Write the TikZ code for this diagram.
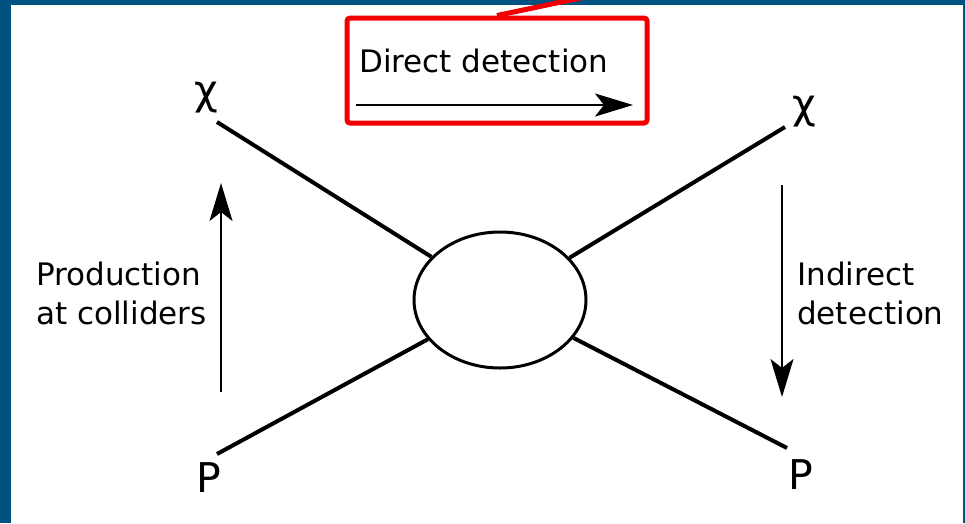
\documentclass[tikz,border=0pt]{standalone}
\usepackage{fontspec}
\setmainfont{DejaVu Sans}
\usetikzlibrary{arrows.meta,shapes.geometric}
\definecolor{frameblue}{RGB}{0,82,128}
\definecolor{boxred}{RGB}{240,0,0}
\begin{document}
\begin{tikzpicture}[x=1pt,y=-1pt,
  lbl/.style={font=\fontsize{31}{39}\selectfont, inner sep=0pt, align=left},
  sym/.style={font=\fontsize{41}{41}\selectfont, inner sep=0pt},
  leg/.style={line width=4pt},
  flow/.style={line width=2pt, -{Stealth[length=38pt,width=23pt,inset=9pt]}},
]
\useasboundingbox (0,0) rectangle (965,523);
\fill[frameblue] (0,0) rectangle (965,523);
\fill[white] (11,5) rectangle (963,523);

% central blob
\node[ellipse, draw, line width=3pt, minimum width=172pt, minimum height=136pt, inner sep=0pt] (blob) at (500,300) {};

% legs
\coordinate (ulend) at (217,122);
\coordinate (llend) at (217,454);
\coordinate (urend) at (785,127);
\coordinate (lrend) at (787,448);
\draw[leg] (ulend) -- (blob);
\draw[leg] (llend) -- (blob);
\draw[leg] (urend) -- (blob);
\draw[leg] (lrend) -- (blob);

% particle symbols
\node[sym] (chiL) at (206,98) {χ};
\node[sym] (chiR) at (804,112) {χ};
\node[sym] (pL) at (209,478) {P};
\node[sym] (pR) at (801,475) {P};

% labels (base anchor = last line)
\node[lbl, anchor=base west] (prod) at (36,324) {Production\\at colliders};
\node[lbl, anchor=base west] (indir) at (797,324) {Indirect\\detection};

% arrows
\coordinate (pa1) at (221,392);
\coordinate (pa2) at (221,183);
\draw[flow] (pa1) -- (pa2);
\coordinate (ia1) at (782,185);
\coordinate (ia2) at (782,397);
\draw[flow] (ia1) -- (ia2);

% direct detection box
\node[draw=boxred, line width=5pt, rounded corners=3pt, minimum width=300pt, minimum height=105pt, inner sep=0pt] (ddbox) at (497,70.5) {};
\node[lbl, anchor=base west] (direct) at (359,72) {Direct detection};
\coordinate (da1) at (356,105);
\coordinate (da2) at (633,105);
\draw[flow] (da1) -- (da2);
\coordinate (rl) at (585,-3);
\draw[boxred, line width=5pt] (ddbox.north) -- (rl);
\end{tikzpicture}
\end{document}
